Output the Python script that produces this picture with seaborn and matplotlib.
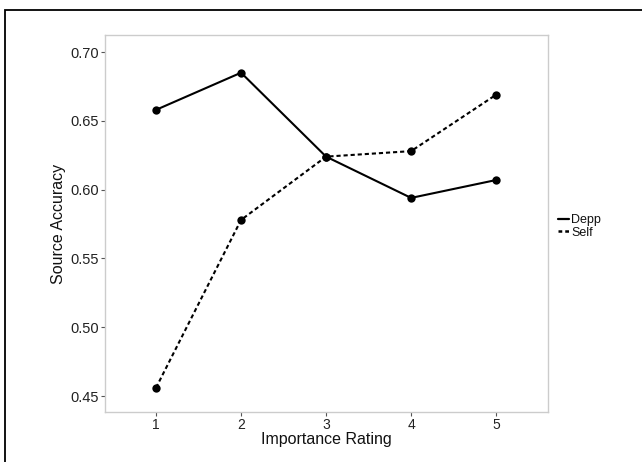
import matplotlib
matplotlib.use("Agg")
import matplotlib.pyplot as plt
import seaborn as sns
import pandas as pd
from matplotlib.patches import Rectangle
from matplotlib.lines import Line2D

ratings = [1, 2, 3, 4, 5]
depp = [0.658, 0.685, 0.624, 0.594, 0.607]
self_vals = [0.456, 0.578, 0.624, 0.628, 0.669]
series_names = ["Depp", "Self"]
y_ticks = [0.45, 0.50, 0.55, 0.60, 0.65, 0.70]

df = pd.DataFrame({
    "Importance Rating": ratings * 2,
    "Source Accuracy": depp + self_vals,
    "Source": [series_names[0]] * 5 + [series_names[1]] * 5,
})

sns.set_theme(style="white")
plt.rcParams["font.family"] = ["Liberation Sans", "DejaVu Sans"]

fig = plt.figure(figsize=(6.42, 4.62), dpi=100)
ax = fig.add_axes([105 / 642, 50 / 462, 443 / 642, 377 / 462])

sns.lineplot(data=df, x="Importance Rating", y="Source Accuracy", style="Source",
             dashes={"Depp": "", "Self": (2, 1.4)}, color="black", linewidth=1.5,
             ax=ax, legend=False)
sns.scatterplot(data=df, x="Importance Rating", y="Source Accuracy", color="black",
                s=36, edgecolor="black", linewidth=0, ax=ax, legend=False, zorder=5)

ax.set_xlim(0.4, 5.61)
ax.set_ylim(0.4384, 0.7124)
ax.set_xticks(ratings)
ax.set_yticks(y_ticks)
ax.set_yticklabels([f"{v:.2f}" for v in y_ticks])
ax.tick_params(axis="both", which="both", length=3, width=0.8, color="#555555",
               labelcolor="#222222", labelsize=10.5, pad=1.5, left=True, bottom=True)
ax.tick_params(axis="x", labelsize=10)
for sp in ax.spines.values():
    sp.set_color("#cccccc")
    sp.set_linewidth(1.0)
ax.set_xlabel("Importance Rating", fontsize=11.5, color="#111111", labelpad=0)
ax.set_ylabel("Source Accuracy", fontsize=11.5, color="#111111", labelpad=3)

handles = [Line2D([], [], color="black", lw=1.6, linestyle="-"),
           Line2D([], [], color="black", lw=1.8, linestyle=(0, (1.5, 1.2)))]
fig.legend(handles, series_names, loc="center left", bbox_to_anchor=(558 / 642, 1 - 226.5 / 462),
           frameon=False, fontsize=9, handlelength=0.85, handletextpad=0.2,
           labelspacing=0.0, borderpad=0, borderaxespad=0, labelcolor="#111111")

fig.patches.append(Rectangle((5.5 / 642, -0.05), 2, 1.05 - 9.5 / 462, transform=fig.transFigure,
                             fill=False, edgecolor="black", linewidth=1.3))

fig.savefig("out.png", dpi=100)
